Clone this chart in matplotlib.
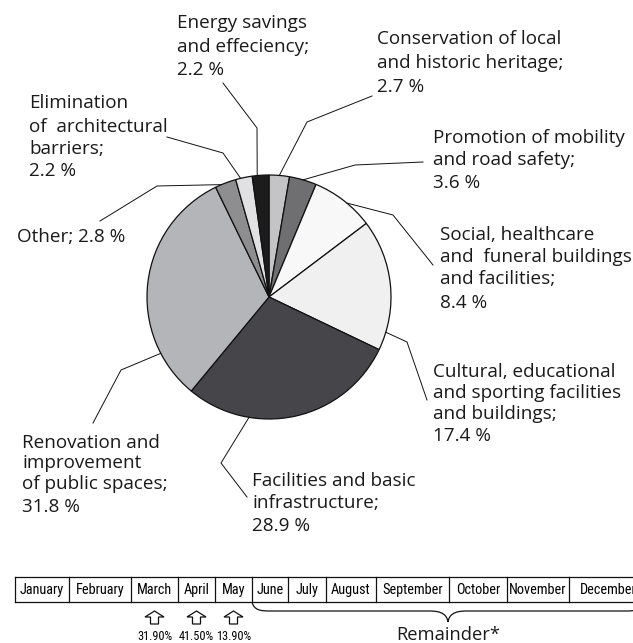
import matplotlib
matplotlib.use('Agg')
import matplotlib.pyplot as plt
import numpy as np
from matplotlib.patches import Polygon, PathPatch
from matplotlib.path import Path
from matplotlib import font_manager
import os

# ---------------- data ----------------
categories = [
    "Conservation of local\nand historic heritage;",
    "Promotion of mobility\nand road safety;",
    "Social, healthcare\nand  funeral buildings\nand facilities;",
    "Cultural, educational\nand sporting facilities\nand buildings;",
    "Facilities and basic\ninfrastructure;",
    "Renovation and\nimprovement\nof public spaces;",
    "Other;",
    "Elimination\nof  architectural\nbarriers;",
    "Energy savings\nand effeciency;",
]
values = [2.7, 3.6, 8.4, 17.4, 28.9, 31.8, 2.8, 2.2, 2.2]
value_labels = ["2.7 %", "3.6 %", "8.4 %", "17.4 %", "28.9 %", "31.8 %", "2.8 %", "2.2 %", "2.2 %"]

months = ["January", "February", "March", "April", "May", "June", "July",
          "August", "September", "October", "November", "December"]
share_months = ["March", "April", "May"]
share_labels = ["31.90%", "41.50%", "13.90%"]
remainder_label = "Remainder*"

# ---------------- styles / layout ----------------
colors = ["#c4c4c6", "#6f6f72", "#f8f8f8", "#f0f0f1", "#46464a",
          "#b4b5b8", "#8e8e91", "#e1e1e3", "#1c1c1c"]
W, H = 633, 643
CX, CY, R = 269, 297, 122
TXT = "#1a1a1a"


def pick_face(prefs):
    """Return FontProperties for a regular face of the first preferred family found."""
    for p in prefs:
        cands = [f for f in font_manager.fontManager.ttflist
                 if f.name == p and f.style == "normal"]
        if not cands:
            continue
        static = [f for f in cands if f.weight in (400, "normal", "regular")
                  and "[" not in os.path.basename(f.fname)]
        if static:
            return font_manager.FontProperties(fname=static[0].fname)
        return font_manager.FontProperties(family=p, weight="normal")
    return None


MAIN_FP = font_manager.FontProperties(family="Open Sans")
NARROW_FP = pick_face(["Roboto Condensed", "PT Sans Narrow", "Fira Sans Condensed",
                       "Archivo Narrow", "IBM Plex Sans Condensed", "Liberation Sans Narrow",
                       "Encode Sans Condensed", "Asap Condensed"])
if NARROW_FP is None:
    NARROW_FP = font_manager.FontProperties(family="Roboto", weight="medium")

label_layout = [
    dict(x=377, ys=[39, 63, 87], frac=0.5, pts=[(307, 122), (372, 96)], inline=False),
    dict(x=433, ys=[138, 160, 183], frac=0.5, pts=[(355, 165), (423, 162)], inline=False),
    dict(x=440, ys=[235, 257, 279, 303], frac=0.56, pts=[(393, 215), (433, 265)], inline=False),
    dict(x=433, ys=[372, 393, 414, 436], frac=0.86, pts=[(407, 342), (427, 400)], inline=False),
    dict(x=252, ys=[481, 503, 526], frac=0.71, pts=[(221, 463), (247, 497)], inline=False),
    dict(x=22, ys=[443, 463, 484, 507], frac=0.2, pts=[(121, 370), (93, 423)], inline=False),
    dict(x=17, ys=[237], frac=0.3, pts=[(157, 186), (100, 221)], inline=True),
    dict(x=29, ys=[103, 127, 149, 171], frac=0.3, pts=[(223, 153), (167, 137)], inline=False),
    dict(x=177, ys=[23, 47, 70], frac=0.3, pts=[(257, 128), (223, 83)], inline=False),
]

month_edges = [15, 69, 131, 178, 215, 252, 288, 326, 376, 449, 507, 569, 648]
table_top, table_bot = 577, 602


def Y(y):
    return H - y


fig = plt.figure(figsize=(W / 100, H / 100), dpi=100)
ax = fig.add_axes([0, 0, 1, 1])
renderer = fig.canvas.get_renderer()


def fit_size(sample, fp, target_px):
    q = fp.copy()
    q.set_size(10)
    t = fig.text(0, 0, sample, fontproperties=q)
    w = t.get_window_extent(renderer).width
    t.remove()
    return 10 * target_px / w


def with_size(fp, s):
    q = fp.copy()
    q.set_size(s)
    return q


LFP = with_size(MAIN_FP, fit_size("Conservation of local", MAIN_FP, 184))
RFP = with_size(MAIN_FP, fit_size(remainder_label, MAIN_FP, 104))
MFP = with_size(NARROW_FP, min(fit_size("September", NARROW_FP, 62),
                               fit_size("November", NARROW_FP, 57), 10.5))
PFP = with_size(NARROW_FP, min(fit_size("31.90%", NARROW_FP, 35), 9.5))

wedges, _ = ax.pie(values, colors=colors, startangle=90, counterclock=False,
                   center=(CX, Y(CY)), radius=R, frame=True,
                   wedgeprops=dict(edgecolor="#111111", linewidth=0.9))
ax.set_xlim(0, W)
ax.set_ylim(0, H)
ax.set_aspect("equal")
ax.axis("off")

# labels and leaders
for w, cat, vl, lay in zip(wedges, categories, value_labels, label_layout):
    t1, t2 = w.theta1, w.theta2
    ang = np.deg2rad(t2 - lay["frac"] * (t2 - t1))
    sx = CX + R * np.cos(ang)
    sy = Y(CY) + R * np.sin(ang)
    xs = [sx] + [p[0] for p in lay["pts"]]
    ys = [sy] + [Y(p[1]) for p in lay["pts"]]
    ax.plot(xs, ys, color="#111111", lw=0.7, solid_joinstyle="miter")
    lines = cat.split("\n")
    if lay["inline"]:
        lines = [lines[0] + " " + vl]
    else:
        lines = lines + [vl]
    for line, yy in zip(lines, lay["ys"]):
        ax.text(lay["x"], Y(yy), line, ha="left", va="center", fontproperties=LFP, color=TXT)

# month table
ax.plot([month_edges[0], month_edges[-1]], [Y(table_top)] * 2, color="#111111", lw=0.9)
ax.plot([month_edges[0], month_edges[-1]], [Y(table_bot)] * 2, color="#111111", lw=0.9)
for e in month_edges:
    ax.plot([e, e], [Y(table_top), Y(table_bot)], color="#111111", lw=0.9)
for i, m in enumerate(months):
    cx = (month_edges[i] + month_edges[i + 1]) / 2
    ax.text(cx, Y((table_top + table_bot) / 2 + 0.5), m, ha="center", va="center",
            fontproperties=MFP, color="#000000")

# hollow arrows and shares
for m, lab in zip(share_months, share_labels):
    i = months.index(m)
    cx = (month_edges[i] + month_edges[i + 1]) / 2
    tip, hb, sb, hw, sw = 611, 617, 624, 9.5, 4
    pts = [(cx, tip), (cx + hw, hb), (cx + sw, hb), (cx + sw, sb),
           (cx - sw, sb), (cx - sw, hb), (cx - hw, hb)]
    ax.add_patch(Polygon([(px, Y(py)) for px, py in pts], closed=True,
                         facecolor="white", edgecolor="#111111", lw=0.9))
    ax.text(cx, Y(636), lab, ha="center", va="center", fontproperties=PFP, color="#000000")

# brace for the remainder
i0 = months.index("June")
bl = month_edges[i0]
br = 644
bm = (bl + br) / 2
verts = [(bl, 602), (bl + 2, 610), (bl + 8, 611), (bl + 18, 611),
         (bm - 18, 611),
         (bm - 6, 611), (bm - 1, 615), (bm, 622),
         (bm + 1, 615), (bm + 6, 611), (bm + 18, 611),
         (br - 18, 611),
         (br - 8, 611), (br - 2, 610), (br, 602)]
codes = [Path.MOVETO, Path.CURVE4, Path.CURVE4, Path.CURVE4,
         Path.LINETO,
         Path.CURVE4, Path.CURVE4, Path.CURVE4,
         Path.CURVE4, Path.CURVE4, Path.CURVE4,
         Path.LINETO,
         Path.CURVE4, Path.CURVE4, Path.CURVE4]
ax.add_patch(PathPatch(Path([(vx, Y(vy)) for vx, vy in verts], codes),
                       facecolor="none", edgecolor="#111111", lw=0.9))
ax.text(bm, Y(635), remainder_label, ha="center", va="center", fontproperties=RFP, color=TXT)

fig.savefig("out.png", dpi=100, facecolor="white")
